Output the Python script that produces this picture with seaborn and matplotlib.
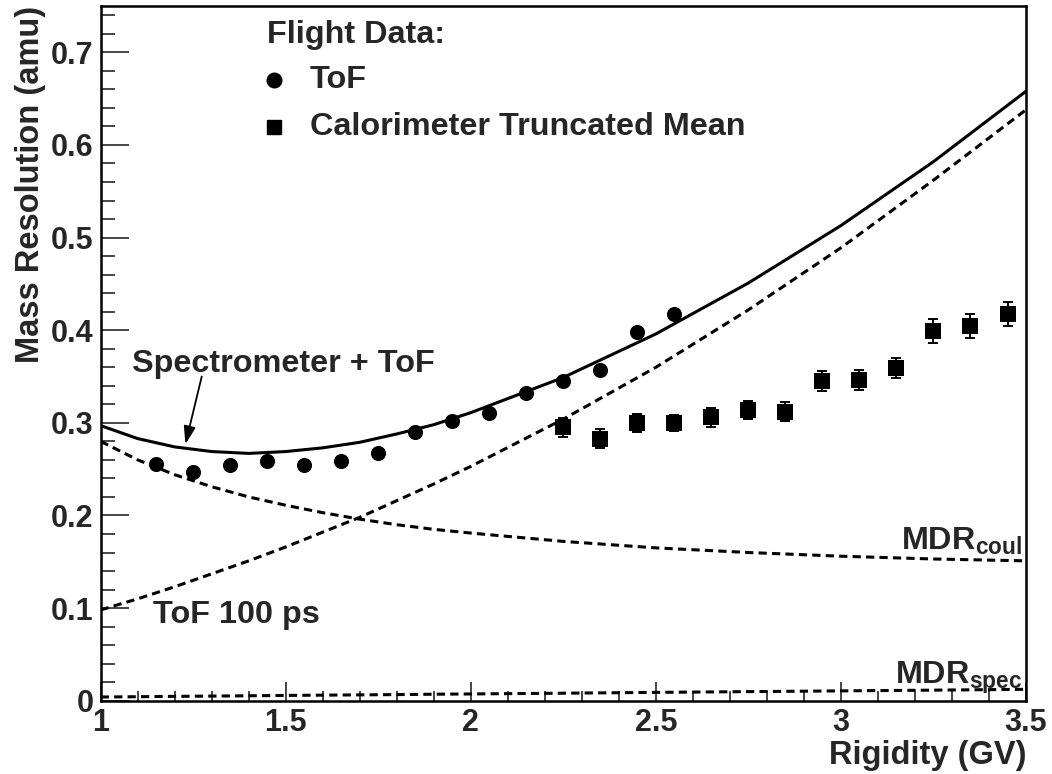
import matplotlib
matplotlib.use("Agg")
import matplotlib.pyplot as plt
import seaborn as sns
import pandas as pd

# ---------------- data ----------------
tof_R = [1.15, 1.25, 1.35, 1.45, 1.55, 1.65, 1.75, 1.85, 1.95, 2.05, 2.15, 2.25, 2.35, 2.45, 2.55]
tof_res = [0.256, 0.247, 0.254, 0.259, 0.255, 0.259, 0.267, 0.290, 0.302, 0.311, 0.332, 0.345, 0.357, 0.398, 0.418]

cal_R = [2.25, 2.35, 2.45, 2.55, 2.65, 2.75, 2.85, 2.95, 3.05, 3.15, 3.25, 3.35, 3.45]
cal_res = [0.295, 0.283, 0.300, 0.300, 0.306, 0.314, 0.312, 0.345, 0.346, 0.359, 0.399, 0.405, 0.418]
cal_err = [0.010, 0.010, 0.010, 0.009, 0.010, 0.010, 0.010, 0.011, 0.011, 0.011, 0.013, 0.013, 0.013]

curve_R = [1.0, 1.1, 1.2, 1.3, 1.4, 1.5, 1.6, 1.7, 1.8, 1.9, 2.0,
           2.25, 2.5, 2.75, 3.0, 3.25, 3.5]
spec_tof = [0.297, 0.283, 0.274, 0.269, 0.267, 0.269, 0.273, 0.279, 0.288, 0.298, 0.311,
            0.349, 0.396, 0.451, 0.513, 0.582, 0.658]
tof_100ps = [0.098, 0.110, 0.123, 0.137, 0.151, 0.166, 0.182, 0.198, 0.216, 0.234, 0.253,
             0.304, 0.360, 0.422, 0.489, 0.562, 0.638]
mdr_coul = [0.280, 0.260, 0.244, 0.231, 0.220, 0.211, 0.203, 0.196, 0.190, 0.185, 0.181,
            0.172, 0.165, 0.160, 0.156, 0.153, 0.151]
mdr_spec = [0.0040, 0.0043, 0.0047, 0.0050, 0.0053, 0.0057, 0.0060, 0.0063, 0.0066, 0.0070, 0.0073,
            0.0081, 0.0090, 0.0098, 0.0106, 0.0114, 0.0123]

x_ticks = [1, 1.5, 2, 2.5, 3, 3.5]
x_ticklabels = ["1", "1.5", "2", "2.5", "3", "3.5"]
y_ticks = [0, 0.1, 0.2, 0.3, 0.4, 0.5, 0.6, 0.7]
y_ticklabels = ["0", "0.1", "0.2", "0.3", "0.4", "0.5", "0.6", "0.7"]

# ---------------- style ----------------
sns.set_theme(style="white")
FONT = ["Liberation Sans", "DejaVu Sans"]
plt.rcParams["font.family"] = FONT
plt.rcParams["font.weight"] = "bold"
plt.rcParams["mathtext.fontset"] = "custom"
plt.rcParams["mathtext.rm"] = "Liberation Sans:bold"
plt.rcParams["mathtext.bf"] = "Liberation Sans:bold"
plt.rcParams["mathtext.it"] = "Liberation Sans:bold"

TXT = 23.3

fig = plt.figure(figsize=(10.52, 7.74), dpi=100)
fig.patch.set_facecolor("white")
ax = fig.add_axes([0.0957, 0.0947, 0.8796, 0.8975])
ax.set_facecolor("white")

curves = pd.DataFrame({"R": curve_R, "spec_tof": spec_tof, "tof": tof_100ps,
                       "coul": mdr_coul, "spec": mdr_spec})
DASH = (0, (2.7, 1.7))
sns.lineplot(data=curves, x="R", y="spec_tof", ax=ax, color="black", lw=2.2, errorbar=None)
sns.lineplot(data=curves, x="R", y="tof", ax=ax, color="black", lw=2.2, linestyle=DASH, errorbar=None)
sns.lineplot(data=curves, x="R", y="coul", ax=ax, color="black", lw=2.2, linestyle=DASH, errorbar=None)
sns.lineplot(data=curves, x="R", y="spec", ax=ax, color="black", lw=2.2, linestyle=DASH, errorbar=None)

tof_df = pd.DataFrame({"R": tof_R, "res": tof_res})
cal_df = pd.DataFrame({"R": cal_R, "res": cal_res, "err": cal_err})
ax.errorbar(cal_df["R"], cal_df["res"], yerr=cal_df["err"], fmt="none",
            ecolor="black", elinewidth=1.4, capsize=3.5, capthick=1.4, zorder=3)
sns.scatterplot(data=tof_df, x="R", y="res", ax=ax, marker="o", s=118,
                color="black", edgecolor="black", linewidth=0, zorder=4)
sns.scatterplot(data=cal_df, x="R", y="res", ax=ax, marker="s", s=118,
                color="black", edgecolor="black", linewidth=0, zorder=4)

# ---------------- axes ----------------
ax.set_xlim(1, 3.5)
ax.set_ylim(0, 0.75)
ax.set_xticks(x_ticks)
ax.set_xticklabels(x_ticklabels)
ax.set_yticks(y_ticks)
ax.set_yticklabels(y_ticklabels)
ax.xaxis.set_minor_locator(matplotlib.ticker.MultipleLocator(0.1))
ax.yaxis.set_minor_locator(matplotlib.ticker.MultipleLocator(0.02))
ax.tick_params(axis="x", which="major", direction="in", length=14, width=1.2,
               labelsize=22, pad=5, bottom=True, top=False)
ax.tick_params(axis="x", which="minor", direction="in", length=7, width=1.2,
               bottom=True, top=False)
ax.tick_params(axis="y", which="major", direction="in", length=20, width=1.2,
               labelsize=22, pad=5, left=True, right=False)
ax.tick_params(axis="y", which="minor", direction="in", length=10, width=1.2,
               left=True, right=False)
for lab in ax.get_xticklabels() + ax.get_yticklabels():
    lab.set_fontweight("bold")
for sp in ax.spines.values():
    sp.set_visible(True)
    sp.set_color("black")
    sp.set_linewidth(1.8)

ax.set_xlabel("Rigidity (GV)", fontsize=23.5, fontweight="bold", loc="right", labelpad=2)
ax.set_ylabel("Mass Resolution (amu)", fontsize=23.5, fontweight="bold", loc="top", labelpad=4)

# ---------------- legend (manual, ROOT style) ----------------
ax.text(0.180, 0.958, "Flight Data:", transform=ax.transAxes, fontsize=TXT,
        fontweight="bold", ha="left", va="center")
ax.plot([0.187], [0.893], marker="o", ms=10.5, color="black", transform=ax.transAxes,
        clip_on=False, ls="none")
ax.text(0.226, 0.893, "ToF", transform=ax.transAxes, fontsize=TXT,
        fontweight="bold", ha="left", va="center")
ax.plot([0.187], [0.826], marker="s", ms=10, color="black", transform=ax.transAxes,
        clip_on=False, ls="none")
ax.text(0.226, 0.826, "Calorimeter Truncated Mean", transform=ax.transAxes, fontsize=TXT,
        fontweight="bold", ha="left", va="center")

# ---------------- annotations ----------------
ax.annotate("", xy=(1.229, 0.277), xytext=(1.273, 0.350),
            arrowprops=dict(arrowstyle="-|>,head_length=0.9,head_width=0.3",
                            color="black", lw=1.3, shrinkA=0, shrinkB=0))
ax.text(1.084, 0.364, "Spectrometer + ToF", fontsize=TXT, fontweight="bold",
        ha="left", va="center")
ax.text(1.141, 0.093, "ToF 100 ps", fontsize=TXT, fontweight="bold",
        ha="left", va="center")
ax.text(3.489, 0.163, r"$\mathbf{MDR}_{\mathbf{coul}}$", fontsize=TXT,
        ha="right", va="baseline")
ax.text(3.489, 0.018, r"$\mathbf{MDR}_{\mathbf{spec}}$", fontsize=TXT,
        ha="right", va="baseline")

fig.savefig("out.png", dpi=100, facecolor="white")
